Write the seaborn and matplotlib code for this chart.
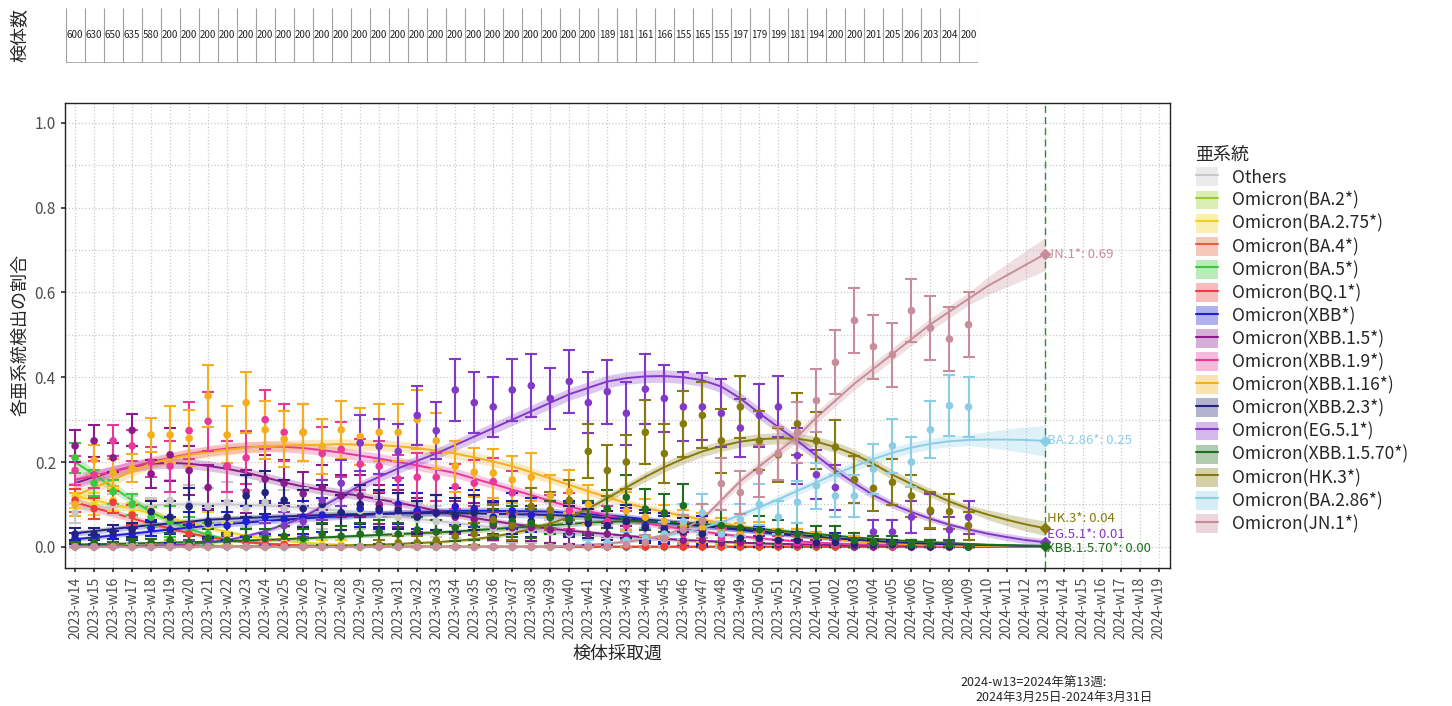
import numpy as np
import pandas as pd
import seaborn as sns
import matplotlib.pyplot as plt
from matplotlib.patches import Patch
from matplotlib.lines import Line2D

# week labels on the x axis (2023-w14 .. 2024-w19)
weeks = [f"2023-w{w:02d}" for w in range(14, 53)] + [f"2024-w{w:02d}" for w in range(1, 20)]
last_fit = 51  # 2024-w13

# number of samples per week (top strip)
samples = [600, 630, 650, 635, 580, 200, 200, 200, 200, 200,
           200, 200, 200, 200, 200, 200, 200, 200, 200, 200,
           200, 200, 200, 200, 200, 200, 200, 200, 189, 181,
           161, 166, 155, 165, 155, 197, 179, 199, 181, 194,
           200, 200, 201, 205, 206, 203, 204, 200]

lineages = ['Others', 'Omicron(BA.2*)', 'Omicron(BA.2.75*)', 'Omicron(BA.4*)',
            'Omicron(BA.5*)', 'Omicron(BQ.1*)', 'Omicron(XBB*)', 'Omicron(XBB.1.5*)',
            'Omicron(XBB.1.9*)', 'Omicron(XBB.1.16*)', 'Omicron(XBB.2.3*)',
            'Omicron(EG.5.1*)', 'Omicron(XBB.1.5.70*)', 'Omicron(HK.3*)',
            'Omicron(BA.2.86*)', 'Omicron(JN.1*)']

colors = ['#C8C8C8', '#9ACD32', '#F2D21B', '#E8603C', '#3CC83C', '#F03C3C',
          '#1E1ED2', '#8B1A8B', '#E8389A', '#F5AF1E', '#23237D', '#8338C8',
          '#1E6E1E', '#877A0C', '#8CCDE6', '#C88C9B']

# observed weekly shares (2023-w14 .. 2024-w09)
others_obs = [0.080, 0.090, 0.100, 0.095, 0.090, 0.110, 0.100, 0.095, 0.105, 0.090,
              0.105, 0.090, 0.095, 0.085, 0.080, 0.085, 0.075, 0.070, 0.065, 0.060,
              0.055, 0.050, 0.045, 0.040, 0.040, 0.035, 0.030, 0.030, 0.025, 0.020,
              0.020, 0.015, 0.015, 0.010, 0.010, 0.010, 0.005, 0.005, 0.005, 0.005,
              0.005, 0.0, 0.0, 0.0, 0.0, 0.0, 0.0, 0.0]
ba2_obs = [0.005, 0.003, 0.005, 0.002, 0.0, 0.005, 0.0, 0.0, 0.005, 0.0] + [0.0] * 38
ba275_obs = [0.120, 0.100, 0.110, 0.080, 0.085, 0.060, 0.050, 0.050, 0.030, 0.020,
             0.020, 0.010, 0.010, 0.005, 0.005] + [0.0] * 33
ba4_obs = [0.005, 0.0, 0.003, 0.0, 0.002] + [0.0] * 43
ba5_obs = [0.210, 0.150, 0.130, 0.100, 0.070, 0.060, 0.040, 0.030, 0.015, 0.010,
           0.010, 0.005, 0.005] + [0.0] * 35
bq1_obs = [0.110, 0.090, 0.105, 0.075, 0.045, 0.040, 0.030, 0.020, 0.015, 0.010,
           0.005, 0.005] + [0.0] * 36
xbb_obs = [0.020, 0.017, 0.025, 0.030, 0.044, 0.040, 0.050, 0.055, 0.050, 0.060,
           0.070, 0.065, 0.070, 0.075, 0.080, 0.090, 0.085, 0.100, 0.085, 0.080,
           0.095, 0.090, 0.070, 0.085, 0.075, 0.080, 0.070, 0.065, 0.060, 0.055,
           0.050, 0.045, 0.040, 0.040, 0.030, 0.030, 0.025, 0.020, 0.020, 0.015,
           0.015, 0.010, 0.010, 0.005, 0.005, 0.005, 0.0, 0.0]
xbb15_obs = [0.238, 0.250, 0.210, 0.275, 0.172, 0.217, 0.180, 0.140, 0.190, 0.130,
             0.160, 0.150, 0.125, 0.140, 0.120, 0.120, 0.100, 0.090, 0.075, 0.080,
             0.070, 0.065, 0.050, 0.045, 0.045, 0.040, 0.035, 0.030, 0.030, 0.025,
             0.020, 0.020, 0.015, 0.015, 0.010, 0.010, 0.010, 0.005, 0.005, 0.005,
             0.005, 0.0, 0.0, 0.0, 0.0, 0.0, 0.0, 0.0]
xbb19_obs = [0.180, 0.170, 0.250, 0.238, 0.200, 0.190, 0.274, 0.296, 0.190, 0.210,
             0.300, 0.270, 0.270, 0.220, 0.230, 0.195, 0.190, 0.160, 0.164, 0.164,
             0.142, 0.150, 0.154, 0.127, 0.095, 0.080, 0.085, 0.070, 0.060, 0.050,
             0.045, 0.040, 0.030, 0.030, 0.020, 0.020, 0.015, 0.010, 0.010, 0.010,
             0.005, 0.005, 0.005, 0.0, 0.0, 0.0, 0.0, 0.0]
xbb116_obs = [0.100, 0.205, 0.175, 0.185, 0.264, 0.264, 0.256, 0.356, 0.264, 0.340,
              0.276, 0.254, 0.270, 0.237, 0.276, 0.260, 0.270, 0.270, 0.300, 0.250,
              0.190, 0.176, 0.174, 0.158, 0.164, 0.120, 0.130, 0.100, 0.090, 0.085,
              0.070, 0.060, 0.050, 0.045, 0.035, 0.030, 0.030, 0.020, 0.020, 0.015,
              0.010, 0.010, 0.010, 0.005, 0.005, 0.005, 0.0, 0.0]
xbb23_obs = [0.030, 0.030, 0.035, 0.040, 0.083, 0.070, 0.095, 0.060, 0.070, 0.120,
             0.128, 0.110, 0.090, 0.100, 0.080, 0.100, 0.090, 0.085, 0.070, 0.080,
             0.075, 0.080, 0.065, 0.070, 0.060, 0.070, 0.060, 0.055, 0.050, 0.060,
             0.045, 0.040, 0.035, 0.030, 0.030, 0.020, 0.020, 0.015, 0.015, 0.010,
             0.010, 0.005, 0.005, 0.005, 0.0, 0.0, 0.0, 0.0]
eg51_obs = [0.0, 0.0, 0.0, 0.0, 0.0, 0.0, 0.005, 0.005, 0.010, 0.020,
            0.030, 0.050, 0.060, 0.110, 0.150, 0.245, 0.237, 0.225, 0.310, 0.274,
            0.370, 0.340, 0.330, 0.370, 0.380, 0.350, 0.390, 0.340, 0.366, 0.315,
            0.372, 0.350, 0.330, 0.330, 0.315, 0.280, 0.310, 0.330, 0.215, 0.170,
            0.140, 0.158, 0.035, 0.035, 0.070, 0.083, 0.040, 0.070]
xbb1570_obs = [0.005, 0.010, 0.005, 0.010, 0.010, 0.015, 0.010, 0.020, 0.015, 0.020,
               0.020, 0.025, 0.020, 0.030, 0.025, 0.030, 0.035, 0.030, 0.040, 0.035,
               0.045, 0.050, 0.055, 0.060, 0.055, 0.070, 0.065, 0.070, 0.090, 0.117,
               0.089, 0.080, 0.097, 0.060, 0.050, 0.045, 0.040, 0.035, 0.030, 0.025,
               0.025, 0.015, 0.010, 0.010, 0.005, 0.005, 0.005, 0.0]
hk3_obs = [0.0] * 16 + [0.005, 0.010, 0.010, 0.015,
                        0.025, 0.030, 0.064, 0.050, 0.095, 0.087, 0.110, 0.225, 0.180, 0.200,
                        0.270, 0.220, 0.290, 0.310, 0.250, 0.330, 0.250, 0.217, 0.290, 0.250,
                        0.235, 0.158, 0.138, 0.152, 0.120, 0.086, 0.083, 0.050]
ba286_obs = [0.0] * 27 + [0.005,
                          0.010, 0.015, 0.020, 0.030, 0.060, 0.080, 0.030, 0.064, 0.100, 0.070,
                          0.105, 0.144, 0.120, 0.120, 0.183, 0.238, 0.200, 0.276, 0.333, 0.330]
jn1_obs = [0.0] * 29 + [0.005,
                        0.010, 0.020, 0.040, 0.060, 0.149, 0.128, 0.178, 0.220, 0.270, 0.345,
                        0.435, 0.534, 0.472, 0.453, 0.557, 0.516, 0.490, 0.524]

# fitted shares (2023-w14 .. 2024-w13)
others_fit = [0.090, 0.092, 0.094, 0.096, 0.098, 0.100, 0.100, 0.100, 0.100, 0.099,
              0.097, 0.095, 0.092, 0.089, 0.085, 0.081, 0.076, 0.071, 0.066, 0.061,
              0.056, 0.051, 0.046, 0.042, 0.038, 0.034, 0.030, 0.027, 0.024, 0.021,
              0.018, 0.016, 0.014, 0.012, 0.010, 0.009, 0.008, 0.007, 0.006, 0.005,
              0.004, 0.004, 0.003, 0.003, 0.002, 0.002, 0.002, 0.001, 0.001, 0.001,
              0.001, 0.001]
ba2_fit = [0.006, 0.005, 0.005, 0.004, 0.004, 0.003, 0.003, 0.003, 0.002, 0.002,
           0.002, 0.002, 0.001, 0.001, 0.001, 0.001, 0.001, 0.001, 0.001, 0.001] + [0.0] * 32
ba275_fit = [0.120, 0.110, 0.100, 0.090, 0.079, 0.068, 0.056, 0.045, 0.035, 0.026,
             0.019, 0.014, 0.010, 0.007, 0.005, 0.003, 0.002, 0.001, 0.001, 0.001] + [0.0] * 32
ba4_fit = [0.004, 0.003, 0.003, 0.002, 0.002, 0.001, 0.001, 0.001] + [0.0] * 44
ba5_fit = [0.200, 0.170, 0.140, 0.110, 0.082, 0.060, 0.042, 0.028, 0.018, 0.012,
           0.008, 0.005, 0.003, 0.002, 0.001, 0.001] + [0.0] * 36
bq1_fit = [0.105, 0.092, 0.080, 0.067, 0.055, 0.043, 0.032, 0.023, 0.016, 0.011,
           0.007, 0.005, 0.003, 0.002, 0.001, 0.001] + [0.0] * 36
xbb_fit = [0.018, 0.022, 0.027, 0.031, 0.036, 0.041, 0.045, 0.050, 0.054, 0.057,
           0.061, 0.064, 0.067, 0.070, 0.072, 0.075, 0.077, 0.079, 0.081, 0.083,
           0.085, 0.085, 0.085, 0.084, 0.084, 0.083, 0.080, 0.077, 0.074, 0.070,
           0.065, 0.060, 0.055, 0.050, 0.045, 0.040, 0.035, 0.030, 0.026, 0.022,
           0.018, 0.015, 0.012, 0.010, 0.008, 0.006, 0.005, 0.004, 0.003, 0.002,
           0.002, 0.001]
xbb15_fit = [0.150, 0.165, 0.178, 0.189, 0.196, 0.198, 0.196, 0.191, 0.184, 0.175,
             0.164, 0.152, 0.142, 0.134, 0.127, 0.120, 0.112, 0.104, 0.095, 0.085,
             0.076, 0.068, 0.061, 0.054, 0.048, 0.043, 0.038, 0.034, 0.030, 0.026,
             0.022, 0.019, 0.016, 0.014, 0.012, 0.010, 0.008, 0.007, 0.006, 0.005,
             0.004, 0.003, 0.003, 0.002, 0.002, 0.002, 0.001, 0.001, 0.001, 0.001,
             0.001, 0.001]
xbb19_fit = [0.158, 0.168, 0.178, 0.189, 0.200, 0.210, 0.219, 0.226, 0.232, 0.235,
             0.237, 0.236, 0.233, 0.228, 0.222, 0.215, 0.208, 0.200, 0.192, 0.183,
             0.174, 0.161, 0.148, 0.135, 0.122, 0.108, 0.095, 0.084, 0.074, 0.064,
             0.056, 0.048, 0.042, 0.036, 0.030, 0.025, 0.020, 0.016, 0.013, 0.010,
             0.008, 0.006, 0.005, 0.004, 0.003, 0.002, 0.002, 0.001, 0.001, 0.001,
             0.001, 0.001]
xbb116_fit = [0.120, 0.140, 0.158, 0.178, 0.197, 0.208, 0.217, 0.224, 0.229, 0.234,
              0.237, 0.239, 0.240, 0.241, 0.242, 0.241, 0.240, 0.237, 0.233, 0.227,
              0.220, 0.211, 0.201, 0.190, 0.176, 0.161, 0.146, 0.131, 0.117, 0.103,
              0.092, 0.082, 0.073, 0.064, 0.056, 0.048, 0.041, 0.034, 0.028, 0.022,
              0.017, 0.013, 0.010, 0.008, 0.006, 0.004, 0.003, 0.002, 0.002, 0.001,
              0.001, 0.001]
xbb23_fit = [0.032, 0.037, 0.042, 0.047, 0.051, 0.055, 0.059, 0.064, 0.066, 0.068,
             0.070, 0.072, 0.073, 0.075, 0.076, 0.077, 0.078, 0.079, 0.079, 0.080,
             0.080, 0.079, 0.078, 0.077, 0.076, 0.075, 0.073, 0.071, 0.068, 0.065,
             0.061, 0.057, 0.053, 0.049, 0.045, 0.041, 0.037, 0.032, 0.028, 0.024,
             0.020, 0.017, 0.014, 0.011, 0.009, 0.007, 0.006, 0.005, 0.004, 0.003,
             0.002, 0.002]
eg51_fit = [0.001, 0.001, 0.002, 0.002, 0.003, 0.004, 0.006, 0.010, 0.016, 0.025,
            0.037, 0.052, 0.070, 0.095, 0.120, 0.145, 0.165, 0.185, 0.203, 0.220,
            0.240, 0.260, 0.280, 0.300, 0.320, 0.340, 0.360, 0.375, 0.390, 0.398,
            0.402, 0.403, 0.400, 0.393, 0.378, 0.350, 0.315, 0.282, 0.250, 0.215,
            0.180, 0.150, 0.122, 0.100, 0.082, 0.066, 0.052, 0.041, 0.031, 0.023,
            0.016, 0.011]
xbb1570_fit = [0.005, 0.006, 0.007, 0.008, 0.009, 0.010, 0.011, 0.012, 0.013, 0.015,
               0.016, 0.018, 0.020, 0.022, 0.024, 0.026, 0.028, 0.030, 0.032, 0.034,
               0.036, 0.039, 0.042, 0.045, 0.048, 0.051, 0.054, 0.057, 0.059, 0.060,
               0.060, 0.059, 0.057, 0.054, 0.050, 0.046, 0.042, 0.038, 0.034, 0.030,
               0.026, 0.022, 0.019, 0.016, 0.013, 0.011, 0.009, 0.007, 0.005, 0.004,
               0.003, 0.002]
hk3_fit = [0.0] * 10 + [0.001, 0.001, 0.001, 0.002, 0.003, 0.004, 0.005, 0.007, 0.009, 0.011,
                        0.014, 0.018, 0.024, 0.032, 0.042, 0.055, 0.070, 0.090, 0.115, 0.140,
                        0.165, 0.188, 0.208, 0.225, 0.238, 0.248, 0.254, 0.256, 0.255, 0.248,
                        0.235, 0.218, 0.196, 0.170, 0.148, 0.127, 0.107, 0.090, 0.076, 0.064,
                        0.053, 0.044]
ba286_fit = [0.0] * 26 + [0.003, 0.005,
                          0.008, 0.012, 0.018, 0.025, 0.034, 0.045, 0.058, 0.075, 0.093, 0.112,
                          0.132, 0.152, 0.172, 0.190, 0.207, 0.222, 0.234, 0.243, 0.249, 0.252,
                          0.253, 0.253, 0.252, 0.250]
jn1_fit = [0.0] * 26 + [0.002, 0.004,
                        0.008, 0.012, 0.018, 0.028, 0.042, 0.065, 0.110, 0.155, 0.190, 0.225,
                        0.260, 0.305, 0.345, 0.385, 0.420, 0.455, 0.490, 0.525, 0.555, 0.585,
                        0.615, 0.640, 0.665, 0.690]

obs_all = [others_obs, ba2_obs, ba275_obs, ba4_obs, ba5_obs, bq1_obs, xbb_obs, xbb15_obs,
           xbb19_obs, xbb116_obs, xbb23_obs, eg51_obs, xbb1570_obs, hk3_obs, ba286_obs, jn1_obs]
fit_all = [others_fit, ba2_fit, ba275_fit, ba4_fit, ba5_fit, bq1_fit, xbb_fit, xbb15_fit,
           xbb19_fit, xbb116_fit, xbb23_fit, eg51_fit, xbb1570_fit, hk3_fit, ba286_fit, jn1_fit]

# end-of-projection labels (short name, vertical nudge of the text)
end_labels = {'Omicron(JN.1*)': ('JN.1*', 0.0), 'Omicron(BA.2.86*)': ('BA.2.86*', 0.0),
              'Omicron(HK.3*)': ('HK.3*', 0.022), 'Omicron(EG.5.1*)': ('EG.5.1*', 0.018),
              'Omicron(XBB.1.5.70*)': ('XBB.1.5.70*', -0.006)}

# long tables for seaborn
obs_rows, fit_rows = [], []
for lin, obs, fit in zip(lineages, obs_all, fit_all):
    for i, p in enumerate(obs):
        obs_rows.append((lin, i, p, samples[i]))
    for i, p in enumerate(fit):
        fit_rows.append((lin, i, p))
obs_df = pd.DataFrame(obs_rows, columns=['lineage', 'week', 'share', 'n'])
fit_df = pd.DataFrame(fit_rows, columns=['lineage', 'week', 'share'])
# 95% interval of the observed share
obs_df['err'] = 1.96 * np.sqrt(obs_df['share'] * (1 - obs_df['share']) / obs_df['n']) * 1.1
palette = dict(zip(lineages, colors))

sns.set_theme(style="white")
plt.rcParams['font.family'] = ['Noto Sans CJK JP', 'DejaVu Sans']

fig = plt.figure(figsize=(14.52, 7.06), dpi=100)
ax = fig.add_axes([65 / 1452, 138 / 706, 1105 / 1452, 465 / 706])

# ribbons
for lin, fit in zip(lineages, fit_all):
    p = np.array(fit)
    idx = np.arange(len(p))
    widen = 1 + 0.45 * np.clip(idx - 47, 0, None) + 0.04 * np.clip(6 - idx, 0, None)
    half = 0.03 * np.sqrt(p * (1 - p)) * widen
    ax.fill_between(idx, np.clip(p - half, 0, None), p + half,
                    color=palette[lin], alpha=0.28, lw=0, zorder=1)

sns.lineplot(data=fit_df, x='week', y='share', hue='lineage', hue_order=lineages,
             palette=palette, lw=1.4, legend=False, ax=ax, zorder=2)

for lin in lineages:
    d = obs_df[obs_df['lineage'] == lin]
    lo = np.minimum(d['err'], d['share'])
    ax.errorbar(d['week'], d['share'], yerr=[lo, d['err']], fmt='none',
                ecolor=palette[lin], elinewidth=1.5, capsize=4, capthick=1.5, zorder=3)

sns.scatterplot(data=obs_df, x='week', y='share', hue='lineage', hue_order=lineages,
                palette=palette, s=30, edgecolor='none', legend=False, ax=ax, zorder=4)

# projection end markers and labels
ax.axvline(last_fit, color='#2E8B2E', ls=(0, (5, 3)), lw=1, zorder=5)
for lin, (short, nudge) in end_labels.items():
    v = fit_all[lineages.index(lin)][last_fit]
    ax.scatter(last_fit, v, marker='D', s=26, color=palette[lin], zorder=6)
    ax.text(last_fit + 0.15, v + nudge, f"{short}: {v:.2f}", color=palette[lin],
            fontsize=9.5, va='center', ha='left', zorder=6)

ax.set_xlim(-0.53, 57.6)
ax.set_ylim(-0.05, 1.047)
ax.set_xticks(range(len(weeks)))
ax.set_xticklabels(weeks, rotation=90, fontsize=10, color='#4D4D4D')
ax.set_yticks([0.0, 0.2, 0.4, 0.6, 0.8, 1.0])
ax.set_yticklabels(['0.0', '0.2', '0.4', '0.6', '0.8', '1.0'], fontsize=11, color='#4D4D4D')
ax.set_yticks([0.1, 0.3, 0.5, 0.7, 0.9], minor=True)
ax.grid(True, which='both', ls=':', color='#C8C8C8', lw=0.9)
ax.tick_params(axis='both', which='major', length=3, color='#333333', bottom=True, left=True)
ax.tick_params(axis='y', which='minor', length=0)
for sp in ax.spines.values():
    sp.set_color('#222222')
    sp.set_linewidth(1)
ax.set_xlabel('検体採取週', fontsize=13)
ax.set_ylabel('各亜系統検出の割合', fontsize=13)

# legend
handles = [(Patch(facecolor=c, alpha=0.35, edgecolor='none'), Line2D([], [], color=c, lw=1.5))
           for c in colors]
fig.legend(handles, lineages, loc='upper left', bbox_to_anchor=(1180 / 1452, 1 - 130 / 706),
           frameon=False, title='亜系統', fontsize=12.5, title_fontsize=13,
           labelspacing=0.22, handlelength=1.3, handleheight=1.3, alignment='left')

# sample count strip
tax = fig.add_axes([65.5 / 1452, 643 / 706, 912.5 / 1452, 55 / 706])
tax.set_xlim(-0.5, len(samples) - 0.5)
tax.set_ylim(0, 1)
for i, n in enumerate(samples):
    tax.text(i, 0.5, str(n), ha='center', va='center', fontsize=7, color='#222222')
tax.vlines(np.arange(-0.5, len(samples), 1), 0, 1, color='#A0A0A0', lw=0.8)
tax.axhline(0, color='#A0A0A0', lw=1.2)
tax.set_xticks([])
tax.set_yticks([])
for sp in tax.spines.values():
    sp.set_visible(False)
fig.text(20 / 1452, 1 - 35 / 706, '検体数', rotation=90, ha='center', va='center', fontsize=13)

# footnote
fig.text(960 / 1452, 1 - 683 / 706, '2024-w13=2024年第13週:', style='italic',
         fontsize=9, va='center', ha='left')
fig.text(975 / 1452, 1 - 697 / 706, '2024年3月25日-2024年3月31日', style='italic',
         fontsize=9, va='center', ha='left')

fig.savefig('out.png', dpi=100)
